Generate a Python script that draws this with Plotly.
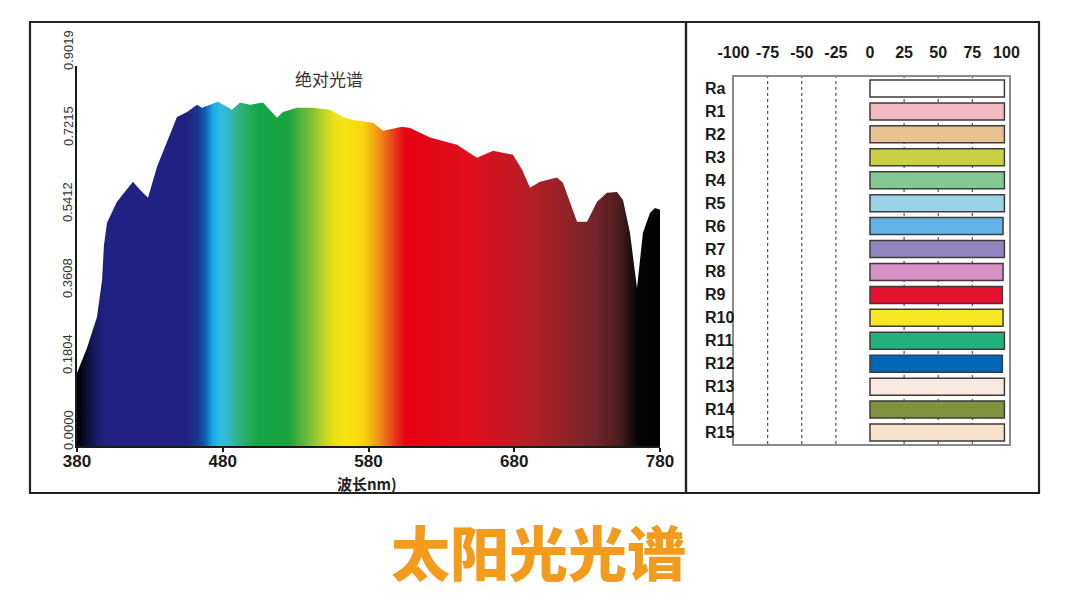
import plotly.graph_objects as go

# ---------------- data ----------------
wavelength_nm = [380, 386.9, 393.7, 397.2, 398.5, 400.6, 407.4, 414.3, 418.4, 423.2,
                 428.7, 434.9, 441.7, 448.6, 455.5, 462.3, 465.8, 471.3, 476.7, 482.9,
                 486.3, 491.8, 498.7, 507.6, 512.4, 517.2, 521.3, 530.9, 541.9, 553.6,
                 562.5, 569.4, 583.1, 590.0, 603.0, 608.5, 622.2, 640.7, 654.4, 665.4,
                 679.1, 685.3, 690.8, 697.7, 709.3, 713.4, 723.1, 729.9, 736.8, 743.6,
                 750.5, 754.6, 759.4, 762.8, 764.2, 768.3, 773.1, 776.6, 780]
intensity = [0.173, 0.233, 0.306, 0.394, 0.477, 0.530, 0.580, 0.608, 0.627, 0.608,
             0.589, 0.663, 0.720, 0.781, 0.793, 0.810, 0.803, 0.810, 0.817, 0.805,
             0.798, 0.815, 0.810, 0.815, 0.798, 0.779, 0.793, 0.803, 0.803, 0.798,
             0.781, 0.774, 0.767, 0.748, 0.758, 0.755, 0.732, 0.715, 0.684, 0.701,
             0.691, 0.656, 0.613, 0.627, 0.637, 0.625, 0.532, 0.532, 0.580, 0.601,
             0.603, 0.584, 0.506, 0.411, 0.375, 0.506, 0.553, 0.565, 0.561]

x_ticks = [380, 480, 580, 680, 780]
y_ticks = [0.0, 0.1804, 0.3608, 0.5412, 0.7215, 0.9019]
y_tick_text = ["0.0000", "0.1804", "0.3608", "0.5412", "0.7215", "0.9019"]

# spectrum colour stops (wavelength nm, colour)
spectrum_stops_nm = [380, 386, 394, 400, 455, 463, 468, 473, 478, 484, 490, 497, 505,
                     525, 538, 548, 556, 565, 576, 584, 592, 600, 606, 650, 680, 710,
                     735, 752, 760, 765, 780]
spectrum_colors = ["#000000", "#0a0c30", "#1a1e70", "#1f2283", "#1f2283", "#1a3590",
                   "#0f5fb0", "#19a8e4", "#2bbbe8", "#35b5c8", "#30b28a", "#27ad5f",
                   "#14a447", "#1aa43c", "#6fb93a", "#b5cf2a", "#e8df18", "#f8e512",
                   "#f8d60c", "#f4a813", "#ec6b18", "#e6281a", "#e60012", "#e0101c",
                   "#c11a24", "#9a2228", "#73252a", "#4a1e1e", "#1e1010", "#050505",
                   "#000000"]

cri_labels = ["Ra", "R1", "R2", "R3", "R4", "R5", "R6", "R7", "R8", "R9", "R10",
              "R11", "R12", "R13", "R14", "R15"]
cri_values = [98.5, 98.5, 98.5, 98.5, 98.5, 98.5, 97.5, 98.5, 97.5, 97, 97.5,
              98.5, 97, 98.5, 98.5, 98.5]
bar_colors = ["#ffffff", "#f2b9c2", "#e8c293", "#c9d043", "#84c993", "#9ad2e6",
              "#63b3e9", "#9384c2", "#d791c4", "#e6102f", "#f8e824", "#22b17a",
              "#0067b6", "#f8e9e1", "#82923f", "#f8e2cb"]
cri_axis_ticks = [-100, -75, -50, -25, 0, 25, 50, 75, 100]
cri_grid = [-75, -50, -25, 25, 50, 75]

# ---------------- figure ----------------
OFF = 8                      # page body offset
W, H = 1064, 588
def px(x):
    return (x - OFF) / W
def py(y):
    return 1 - (y - OFF) / H

scale = [[(nm - 380) / 400, c] for nm, c in zip(spectrum_stops_nm, spectrum_colors)]

fig = go.Figure()
fig.add_trace(go.Scatter(
    x=wavelength_nm, y=intensity, mode="lines",
    line=dict(width=0, color="rgba(0,0,0,0)"),
    fill="tozeroy",
    fillgradient=dict(type="horizontal", colorscale=scale, start=380, stop=780),
    hoverinfo="skip", xaxis="x", yaxis="y", showlegend=False))

fig.add_trace(go.Bar(
    x=cri_values, y=cri_labels, orientation="h",
    marker=dict(color=bar_colors, line=dict(color="#3c3c3c", width=1.5)),
    width=0.74, xaxis="x2", yaxis="y2", showlegend=False))

narrow = "Liberation Sans Narrow, Arial Narrow, Liberation Sans, Arial"
cjk = "Noto Sans CJK SC"

fig.update_layout(
    width=W, height=H,
    margin=dict(l=0, r=0, t=0, b=0, pad=0, autoexpand=False),
    paper_bgcolor="white", plot_bgcolor="white",
    showlegend=False,
    xaxis=dict(domain=[px(77), px(660)], range=[380, 780], tickvals=x_ticks,
               ticktext=[str(v) for v in x_ticks],
               showline=True, linecolor="#1a1a1a", linewidth=2,
               ticks="outside", ticklen=4, tickcolor="#1a1a1a", tickwidth=1.5,
               ticklabelstandoff=-5,
               tickfont=dict(family="Liberation Sans, Arial", size=17,
                             color="#1a1a1a", weight="bold"),
               showgrid=False, zeroline=False, anchor="y", fixedrange=True,
               automargin=False),
    yaxis=dict(domain=[py(446), py(66)], range=[0, 0.9019],
               showticklabels=False, showline=True, linecolor="#1a1a1a",
               linewidth=1.5, showgrid=False, zeroline=False, anchor="x",
               ticks="", fixedrange=True, automargin=False),
    xaxis2=dict(domain=[px(733.5), px(1008.5)], range=[-100, 101.5], side="top",
                tickvals=cri_axis_ticks, ticktext=[str(v) for v in cri_axis_ticks],
                tickfont=dict(family=narrow, size=16, color="#1a1a1a", weight="bold"),
                ticks="", ticklabelstandoff=11,
                showgrid=False, zeroline=False,
                showline=True, mirror=True, linecolor="#8a8a8a", linewidth=1.5,
                anchor="y2", fixedrange=True, automargin=False),
    yaxis2=dict(domain=[py(444), py(77)], range=[15.5, -0.5], type="category",
                categoryorder="array", categoryarray=cri_labels,
                showticklabels=False, showgrid=False, zeroline=False,
                showline=True, mirror=True, linecolor="#8a8a8a", linewidth=1.5,
                anchor="x2", fixedrange=True, automargin=False),
)

# dotted reference lines in CRI panel
for v in cri_grid:
    fig.add_shape(type="line", xref="x2", yref="y2 domain", x0=v, x1=v, y0=0, y1=1,
                  line=dict(color="#555555", width=1.2, dash="dot"), layer="below")

# panel frames
fig.add_shape(type="rect", xref="paper", yref="paper",
              x0=px(30), x1=px(686), y0=py(493), y1=py(22),
              line=dict(color="#222222", width=2.2), fillcolor="rgba(0,0,0,0)")
fig.add_shape(type="rect", xref="paper", yref="paper",
              x0=px(686), x1=px(1039), y0=py(493), y1=py(22),
              line=dict(color="#222222", width=2.2), fillcolor="rgba(0,0,0,0)")

# rotated y tick labels
for v, t in zip(y_ticks, y_tick_text):
    fig.add_annotation(x=px(68), xref="paper", y=v, yref="y", text=t,
                       textangle=-90, showarrow=False, yshift=16,
                       xanchor="center", yanchor="middle",
                       font=dict(family=narrow, size=13, color="#333333"))

# CRI row labels
for lab in cri_labels:
    fig.add_annotation(x=px(703), xref="paper", y=lab, yref="y2", text=lab,
                       showarrow=False, xanchor="left", yanchor="middle",
                       font=dict(family=narrow, size=16, color="#1a1a1a", weight="bold"))

# texts
fig.add_annotation(x=px(329), y=py(78), xref="paper", yref="paper", text="绝对光谱",
                   showarrow=False, xanchor="center", yanchor="middle",
                   font=dict(family=cjk, size=17, color="#333333"))
fig.add_annotation(x=px(367), y=py(483), xref="paper", yref="paper", text="波长nm)",
                   showarrow=False, xanchor="center", yanchor="middle",
                   font=dict(family=cjk, size=15, color="#222222", weight="bold"))
fig.add_annotation(x=px(538), y=py(550), xref="paper", yref="paper", text="太阳光光谱",
                   showarrow=False, xanchor="center", yanchor="middle",
                   font=dict(family=cjk, size=59, color="#F29B1D", weight=900))

fig.write_html("out.html")
